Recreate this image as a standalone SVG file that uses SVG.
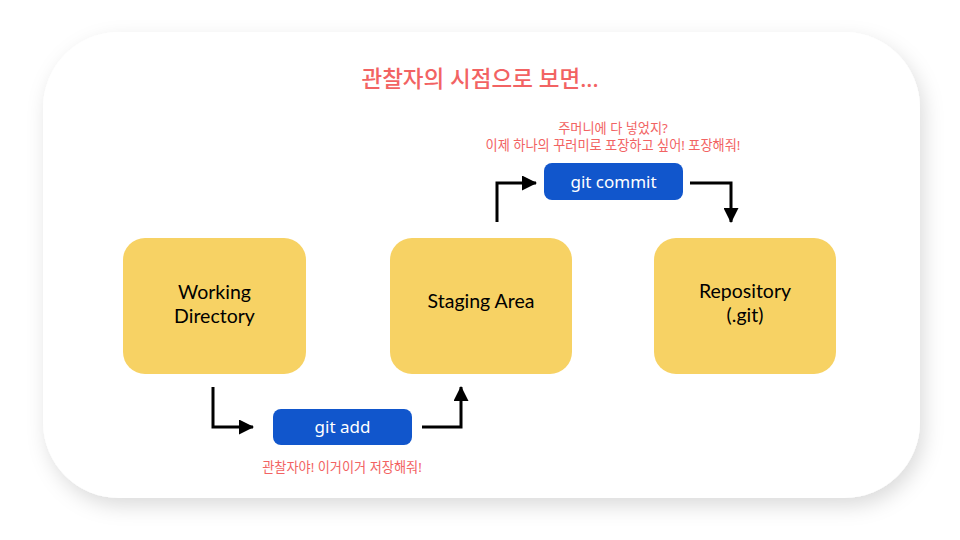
<svg xmlns="http://www.w3.org/2000/svg" width="960" height="540" viewBox="0 0 960 540">
<defs>
<filter id="sh" x="-10%" y="-10%" width="120%" height="130%">
<feDropShadow dx="4" dy="8" stdDeviation="10" flood-color="#000" flood-opacity="0.14"/>
</filter>
<marker id="ah" markerWidth="15" markerHeight="15" viewBox="0 0 15 15" refX="14" refY="7.5" orient="auto" markerUnits="userSpaceOnUse">
<path d="M0,0 L15,7.5 L0,15 Z" fill="#000"/>
</marker>
<style>
.node rect{fill:#F7D264}
.node text{font-family:Lato,"Noto Sans",sans-serif;font-size:19.5px;fill:#000;text-anchor:middle}
.cmd rect{fill:#1156CC}
.cmd text{font-family:"Noto Sans","Open Sans",sans-serif;font-size:17px;fill:#fff;text-anchor:middle}
.note{font-family:"Noto Sans","Noto Sans CJK KR",sans-serif;fill:#F26363;text-anchor:middle}
.conn path{fill:none;stroke:#000;stroke-width:3;marker-end:url(#ah)}
</style>
</defs>
<rect width="960" height="540" fill="#fff"/>
<rect x="43" y="32" width="877" height="466" rx="76" fill="#fff" filter="url(#sh)"/>
<text class="note" x="480" y="87" font-size="22.5" font-weight="500" font-family="'Noto Sans CJK KR',sans-serif">관찰자의 시점으로 보면...</text>
<g id="working-directory" class="node">
<rect x="123" y="238" width="183" height="136" rx="22"/>
<text x="214.5" y="299">Working</text>
<text x="214.5" y="323">Directory</text>
</g>
<g id="staging-area" class="node">
<rect x="390" y="238" width="182" height="136" rx="22"/>
<text x="481" y="308">Staging Area</text>
</g>
<g id="repository" class="node">
<rect x="654" y="238" width="182" height="136" rx="22"/>
<text x="745" y="298">Repository</text>
<text x="745" y="322">(.git)</text>
</g>
<g id="git-add" class="cmd">
<rect x="273" y="409" width="139" height="36" rx="8"/>
<text x="342.5" y="433">git add</text>
</g>
<g id="git-commit" class="cmd">
<rect x="544" y="163" width="139" height="37" rx="8"/>
<text x="613.5" y="188">git commit</text>
</g>
<text class="note" x="342" y="472" font-size="13.2">관찰자야! 이거이거 저장해줘!</text>
<text class="note" x="613" y="133" font-size="13.2">주머니에 다 넣었지?</text>
<text class="note" x="613" y="150" font-size="13.2">이제 하나의 꾸러미로 포장하고 싶어! 포장해줘!</text>
<g id="connectors" class="conn">
<path d="M213,387 V427 H253"/>
<path d="M422,427 H461 V387"/>
<path d="M497,222 V183 H536"/>
<path d="M690,183 H731 V222"/>
</g>
</svg>
